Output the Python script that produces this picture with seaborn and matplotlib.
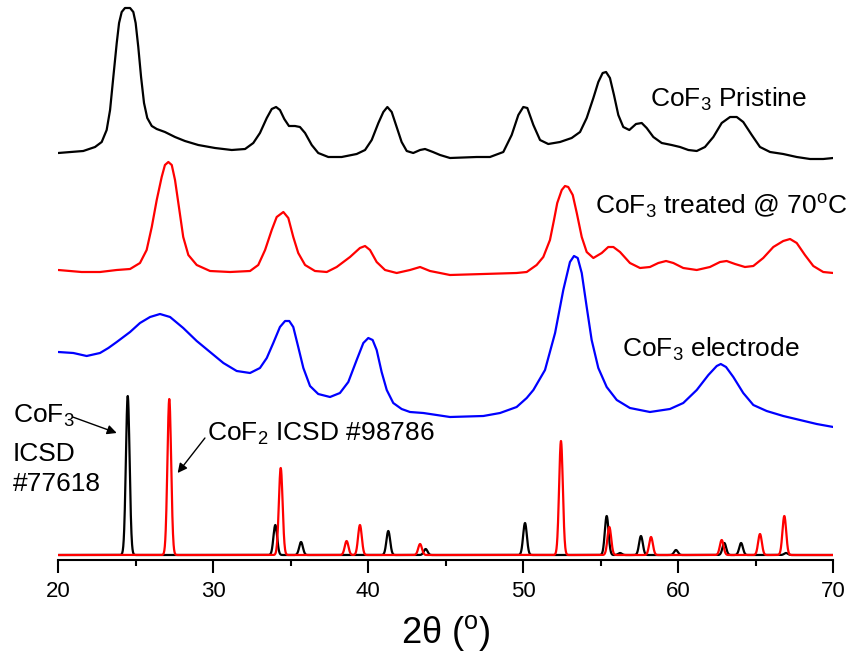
import numpy as np
import matplotlib
matplotlib.use("Agg")
import matplotlib.pyplot as plt
import seaborn as sns

# --- measured patterns (2theta in degrees, intensity in a.u. incl. stacking offset) ---
pristine_2theta = [20.0, 20.8, 21.61, 22.37, 22.80, 23.12, 23.34, 23.55, 23.77, 23.92,
                   24.09, 24.30, 24.63, 24.84, 24.99, 25.16, 25.34, 25.53, 25.74, 26.03,
                   26.35, 26.88, 27.53, 28.17, 29.03, 30.11, 31.19, 32.05, 32.58, 33.01,
                   33.45, 33.77, 34.05, 34.30, 34.58, 34.88, 35.27, 35.59, 35.92, 36.35,
                   36.77, 37.42, 38.28, 39.25, 39.79, 40.22, 40.65, 40.97, 41.23, 41.51,
                   41.83, 42.15, 42.48, 42.90, 43.34, 43.66, 44.17, 44.63, 45.27, 46.99,
                   47.85, 48.71, 49.25, 49.68, 50.0, 50.26, 50.65, 51.08, 51.61, 52.37,
                   53.12, 53.66, 54.09, 54.52, 54.84, 55.12, 55.34, 55.59, 55.85, 56.13,
                   56.45, 56.84, 57.27, 57.64, 57.96, 58.39, 58.93, 59.57, 60.11, 60.65,
                   61.19, 61.72, 62.26, 62.80, 63.34, 63.77, 64.19, 64.74, 65.27, 65.92,
                   66.77, 67.64, 68.50, 69.35, 70.0]
pristine_int = [407, 408, 409, 413, 418, 430, 450, 483, 517, 537,
                548, 552, 552, 548, 537, 513, 483, 457, 442, 434,
                431, 428, 423, 419, 415, 412, 410, 411, 417, 427,
                442, 451, 453, 450, 441, 434, 434, 433, 427, 415,
                407, 403, 403, 406, 410, 420, 437, 448, 453, 448,
                433, 418, 409, 407, 410, 411, 408, 405, 402, 403,
                403, 408, 425, 445, 453, 452, 435, 420, 416, 418,
                422, 428, 442, 462, 478, 487, 488, 482, 465, 445,
                433, 430, 436, 437, 432, 423, 417, 415, 413, 410,
                409, 413, 423, 437, 443, 443, 438, 425, 413, 408,
                406, 403, 401, 401, 402]

treated_2theta = [20.0, 21.5, 22.69, 23.77, 24.63, 25.27, 25.70, 26.03, 26.35, 26.67,
                  26.88, 27.10, 27.32, 27.53, 27.81, 28.06, 28.39, 28.93, 29.79, 31.08,
                  32.37, 32.90, 33.34, 33.77, 34.09, 34.52, 34.84, 35.16, 35.48, 35.92,
                  36.56, 37.32, 37.96, 38.82, 39.46, 39.79, 40.11, 40.54, 41.08, 41.83,
                  42.69, 43.34, 43.98, 44.63, 45.27, 47.42, 49.57, 50.22, 50.86, 51.29,
                  51.72, 51.98, 52.19, 52.48, 52.69, 52.90, 53.19, 53.45, 53.77, 54.09,
                  54.52, 55.06, 55.48, 55.81, 56.24, 56.88, 57.53, 58.17, 58.71, 59.21,
                  59.68, 60.32, 61.19, 62.04, 62.69, 63.12, 63.66, 64.30, 64.84, 65.48,
                  66.13, 66.77, 67.21, 67.64, 68.17, 68.71, 69.35, 70.0]
treated_int = [290, 288, 288, 290, 291, 297, 310, 333, 360, 383,
               395, 398, 395, 380, 350, 323, 305, 295, 289, 288,
               289, 295, 310, 330, 343, 348, 342, 323, 307, 295,
               289, 288, 293, 303, 312, 314, 310, 298, 290, 287,
               290, 293, 289, 287, 285, 286, 287, 288, 295, 303,
               320, 340, 357, 370, 374, 373, 365, 347, 323, 308,
               302, 307, 313, 313, 308, 297, 292, 293, 297, 299,
               297, 292, 290, 293, 298, 299, 296, 293, 294, 302,
               313, 319, 321, 317, 305, 294, 288, 287]

electrode_2theta = [20.0, 20.97, 21.83, 22.69, 23.23, 23.77, 24.63, 25.27, 25.92, 26.56,
                    27.21, 28.06, 28.93, 29.79, 30.65, 31.51, 32.37, 33.01, 33.45, 33.87,
                    34.30, 34.63, 34.90, 35.16, 35.48, 35.81, 36.24, 36.77, 37.53, 38.17,
                    38.71, 39.25, 39.68, 40.0, 40.28, 40.54, 40.86, 41.19, 41.61, 42.15,
                    42.69, 43.55, 45.27, 47.42, 48.50, 49.57, 50.22, 50.65, 51.40, 52.05,
                    52.58, 53.01, 53.27, 53.51, 53.77, 54.09, 54.41, 54.84, 55.38, 56.03,
                    56.88, 58.17, 59.46, 60.32, 61.19, 61.94, 62.48, 62.74, 63.08, 63.55,
                    64.19, 64.84, 65.70, 66.77, 67.85, 68.93, 70.0]
electrode_int = [208, 207, 204, 207, 212, 218, 228, 237, 243, 246,
                 243, 232, 219, 208, 197, 189, 187, 192, 202, 217,
                 233, 239, 239, 233, 213, 192, 174, 166, 163, 167,
                 178, 200, 217, 222, 220, 210, 188, 170, 157, 151,
                 148, 147, 143, 144, 147, 153, 162, 170, 190, 227,
                 270, 298, 304, 302, 287, 253, 220, 192, 173, 160,
                 152, 148, 151, 157, 170, 185, 194, 196, 193, 183,
                 167, 155, 149, 144, 140, 136, 133]

# --- reference patterns: peak positions and heights above baseline ---
ref_base = 5
cof3_pos = [24.48, 34.0, 35.66, 41.29, 43.7, 50.11, 55.38, 56.24, 57.59, 59.85, 62.97, 64.05, 66.95]
cof3_height = [159, 30, 13, 24, 6, 32, 39, 2, 19, 5, 12, 12, 2]
cof2_pos = [27.16, 34.35, 38.6, 39.46, 43.34, 52.43, 55.55, 58.24, 62.8, 65.27, 66.84]
cof2_height = [156, 87, 14, 30, 11, 114, 28, 18, 15, 21, 39]


def ref_profile(pos, height, grid, sigma=0.12):
    y = np.full_like(grid, ref_base, dtype=float)
    for p, h in zip(pos, height):
        y += h * np.exp(-0.5 * ((grid - p) / sigma) ** 2)
    return y


sns.set_style("ticks")
plt.rcParams["font.family"] = ["Liberation Sans", "DejaVu Sans"]
plt.rcParams["mathtext.fontset"] = "custom"
plt.rcParams["mathtext.rm"] = "Liberation Sans"
plt.rcParams["mathtext.it"] = "Liberation Sans:italic"
plt.rcParams["mathtext.bf"] = "Liberation Sans:bold"
plt.rcParams["text.color"] = "black"
plt.rcParams["axes.labelcolor"] = "black"
plt.rcParams["xtick.color"] = "black"
plt.rcParams["axes.edgecolor"] = "black"

fig = plt.figure(figsize=(8.5, 6.53), dpi=100)
ax = fig.add_axes([58.3 / 850, 93 / 653, 775 / 850, 560 / 653])

lw = 1.6
sns.lineplot(x=pristine_2theta, y=pristine_int, color="black", lw=lw, ax=ax, sort=False)
sns.lineplot(x=treated_2theta, y=treated_int, color="#ff0000", lw=lw, ax=ax, sort=False)
sns.lineplot(x=electrode_2theta, y=electrode_int, color="#0000ff", lw=lw, ax=ax, sort=False)

grid = np.linspace(20, 70, 5001)
sns.lineplot(x=grid, y=ref_profile(cof3_pos, cof3_height, grid), color="black", lw=lw, ax=ax)
sns.lineplot(x=grid, y=ref_profile(cof2_pos, cof2_height, grid), color="#ff0000", lw=lw, ax=ax)

ax.set_xlim(20, 70)
ax.set_ylim(0, 560)
ax.set_xticks(range(20, 71, 10))
ax.set_xticks(range(25, 70, 10), minor=True)
ax.set_yticks([])
for s in ["left", "right", "top"]:
    ax.spines[s].set_visible(False)
ax.spines["bottom"].set_linewidth(1.5)
ax.tick_params(axis="x", which="major", direction="out", length=9, width=1.5,
               labelsize=16, pad=6)
ax.tick_params(axis="x", which="minor", direction="out", length=4.5, width=1.5)
ax.set_xlabel(r"2$\mathrm{\theta}$ ($^{\mathrm{o}}$)", fontsize=26, labelpad=8)
ax.set_ylabel("")

fs = 19
ax.text(58.17, 453, r"CoF$_3$ Pristine", fontsize=fs, va="baseline")
ax.text(54.63, 345, r"CoF$_3$ treated @ 70$^{\mathrm{o}}$C", fontsize=fs, va="baseline")
ax.text(56.35, 203, r"CoF$_3$ electrode", fontsize=fs, va="baseline")
ax.text(17.07, 137, r"CoF$_3$", fontsize=fs, va="baseline")
ax.text(17.07, 99, "ICSD", fontsize=fs, va="baseline")
ax.text(17.07, 69, "#77618", fontsize=fs, va="baseline")
ax.text(29.61, 119, r"CoF$_2$ ICSD #98786", fontsize=fs, va="baseline")

arrow = dict(arrowstyle="-|>", color="black", lw=1, mutation_scale=14, shrinkA=0, shrinkB=0)
ax.annotate("", xy=(23.77, 127), xytext=(20.93, 143), arrowprops=arrow, annotation_clip=False)
ax.annotate("", xy=(27.70, 87), xytext=(29.46, 122), arrowprops=arrow)

fig.savefig("out.png", dpi=100)
